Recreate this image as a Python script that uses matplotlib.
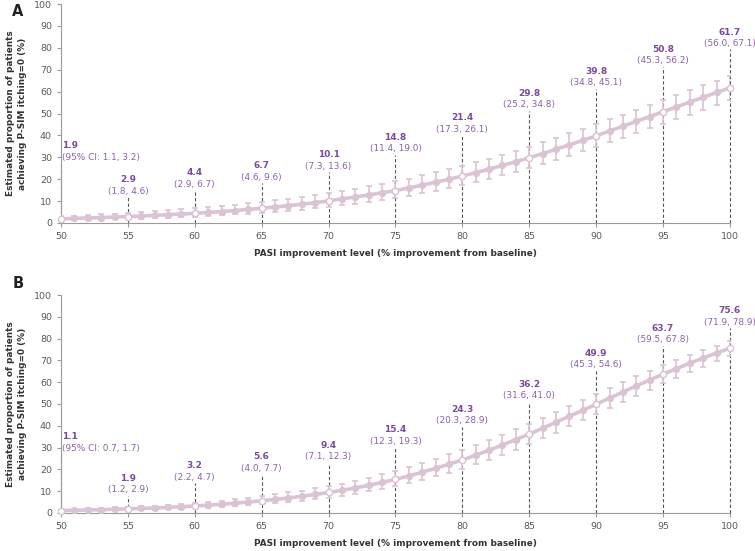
import numpy as np
import matplotlib.pyplot as plt

pasi = list(range(50, 101))

# panel A: estimated proportion (%) with 95% CI
est_a = [1.9, 2.1, 2.3, 2.5, 2.7, 2.9, 3.2, 3.5, 3.8, 4.1,
         4.4, 4.8, 5.2, 5.7, 6.2, 6.7, 7.3, 7.9, 8.6, 9.3,
         10.1, 11.0, 11.9, 12.8, 13.8, 14.8, 16.0, 17.3, 18.6, 20.0,
         21.4, 23.0, 24.6, 26.3, 28.0, 29.8, 31.7, 33.7, 35.7, 37.7,
         39.8, 42.0, 44.2, 46.4, 48.6, 50.8, 53.0, 55.2, 57.4, 59.6, 61.7]
low_a = [1.1, 1.2, 1.4, 1.5, 1.6, 1.8, 2.0, 2.2, 2.4, 2.6,
         2.9, 3.2, 3.5, 3.9, 4.2, 4.6, 5.1, 5.6, 6.1, 6.7,
         7.3, 8.0, 8.8, 9.6, 10.5, 11.4, 12.5, 13.6, 14.8, 16.0,
         17.3, 18.8, 20.3, 21.9, 23.5, 25.2, 27.0, 28.9, 30.8, 32.8,
         34.8, 36.9, 38.9, 41.0, 43.2, 45.3, 47.4, 49.5, 51.6, 53.8, 56.0]
up_a = [3.2, 3.4, 3.7, 4.0, 4.3, 4.6, 5.0, 5.4, 5.8, 6.2,
        6.7, 7.2, 7.8, 8.4, 9.0, 9.6, 10.3, 11.1, 11.9, 12.7,
        13.6, 14.6, 15.6, 16.7, 17.8, 19.0, 20.3, 21.7, 23.1, 24.6,
        26.1, 27.7, 29.4, 31.1, 32.9, 34.8, 36.8, 38.8, 40.9, 43.0,
        45.1, 47.3, 49.5, 51.7, 54.0, 56.2, 58.4, 60.6, 62.8, 65.0, 67.1]

# panel B
est_b = [1.1, 1.2, 1.4, 1.5, 1.7, 1.9, 2.1, 2.3, 2.6, 2.9,
         3.2, 3.6, 4.0, 4.5, 5.0, 5.6, 6.2, 6.9, 7.7, 8.5,
         9.4, 10.4, 11.5, 12.7, 14.0, 15.4, 17.0, 18.7, 20.5, 22.4,
         24.3, 26.5, 28.8, 31.2, 33.7, 36.2, 38.9, 41.6, 44.4, 47.1,
         49.9, 52.7, 55.5, 58.3, 61.0, 63.7, 66.2, 68.7, 71.1, 73.4, 75.6]
low_b = [0.7, 0.8, 0.9, 1.0, 1.1, 1.2, 1.4, 1.5, 1.7, 2.0,
         2.2, 2.5, 2.8, 3.2, 3.6, 4.0, 4.5, 5.1, 5.7, 6.4,
         7.1, 8.0, 8.9, 10.0, 11.1, 12.3, 13.7, 15.2, 16.8, 18.5,
         20.3, 22.3, 24.4, 26.7, 29.1, 31.6, 34.2, 36.9, 39.7, 42.5,
         45.3, 48.1, 50.9, 53.7, 56.6, 59.5, 62.1, 64.7, 67.2, 69.6, 71.9]
up_b = [1.7, 1.9, 2.1, 2.3, 2.6, 2.9, 3.1, 3.4, 3.8, 4.2,
        4.7, 5.2, 5.7, 6.3, 7.0, 7.7, 8.5, 9.4, 10.3, 11.3,
        12.3, 13.5, 14.8, 16.2, 17.7, 19.3, 21.1, 23.0, 24.9, 26.9,
        28.9, 31.2, 33.5, 36.0, 38.5, 41.0, 43.7, 46.4, 49.1, 51.9,
        54.6, 57.3, 60.0, 62.7, 65.3, 67.8, 70.2, 72.5, 74.7, 76.8, 78.9]

# where the CI annotation sits (y, data units) at 50, 55, ... 100
lab_y_a = [30.1, 14.6, 17.8, 21.0, 26.0, 33.8, 42.9, 53.9, 64.0, 74.0, 82.0]
lab_y_b = [29.8, 10.6, 16.5, 20.6, 25.7, 33.0, 42.2, 53.7, 67.9, 79.4, 87.6]

line_c = '#dac3d4'
bold_c = '#7a4a9c'
ci_c = '#8a61a9'
grey = '#595959'

fig = plt.figure(figsize=(7.55, 5.51), dpi=100)
ax_a = fig.add_axes([0.0808, 0.5953, 0.886, 0.3974])
ax_b = fig.add_axes([0.0808, 0.0690, 0.886, 0.3956])


def panel(ax, est, low, up, lab_y):
    x = np.array(pasi)
    est = np.array(est)
    err = [est - np.array(low), np.array(up) - est]
    ax.errorbar(x, est, yerr=err, color=line_c, lw=2.6, elinewidth=1.2,
                capsize=2.3, capthick=1.2, marker='o', ms=4.2,
                mfc=line_c, mec=line_c, zorder=3)
    five = x % 5 == 0
    for i, xv in enumerate(x[five]):
        k = pasi.index(xv)
        ax.plot([xv, xv], [0, lab_y[i] - 2.6], ls=(0, (3, 2)), color='#555555',
                lw=0.8, zorder=2, clip_on=False)
        ci = '(%.1f, %.1f)' % (low[k], up[k])
        ha = 'center'
        tx = xv
        if i == 0:
            ci = '(95% CI: ' + ci[1:]
            ha = 'left'
            tx = xv + 0.05
        ax.text(tx, lab_y[i], ci, ha=ha, va='center', fontsize=6.4,
                color=ci_c, clip_on=False)
        ax.annotate('%.1f' % est[k], (tx, lab_y[i]), xytext=(0, 8.0),
                    textcoords='offset points', ha=ha, va='center',
                    fontsize=6.5, fontweight='bold', color=bold_c,
                    annotation_clip=False)
    ax.plot(x[five], est[five], 'o', ms=4.5, mfc='white', mec=line_c,
            mew=1.0, zorder=4, clip_on=False)

    ax.set_xlim(50, 100)
    ax.set_ylim(0, 100)
    ax.set_xticks(range(50, 101, 5))
    ax.set_yticks(range(0, 101, 10))
    for s in ['top', 'right']:
        ax.spines[s].set_visible(False)
    for s in ['left', 'bottom']:
        ax.spines[s].set_color('#9a9a9a')
        ax.spines[s].set_linewidth(0.8)
    ax.tick_params(colors='#9a9a9a', labelcolor=grey, labelsize=6.8,
                   length=3, width=0.8)
    ax.set_xlabel('PASI improvement level (% improvement from baseline)',
                  fontsize=6.4, fontweight='bold', color='#333333', labelpad=6)
    ax.set_ylabel('Estimated proportion of patients\nachieving P-SIM itching=0 (%)',
                  fontsize=6.4, fontweight='bold', color='#333333', labelpad=5,
                  linespacing=1.45)


panel(ax_a, est_a, low_a, up_a, lab_y_a)
panel(ax_b, est_b, low_b, up_b, lab_y_b)

fig.text(18 / 755, 1 - 11 / 551, 'A', fontsize=10.5, fontweight='bold',
         color='#222222', ha='center', va='center')
fig.text(18 / 755, 1 - 283 / 551, 'B', fontsize=10.5, fontweight='bold',
         color='#222222', ha='center', va='center')

fig.savefig('out.png', dpi=100)
